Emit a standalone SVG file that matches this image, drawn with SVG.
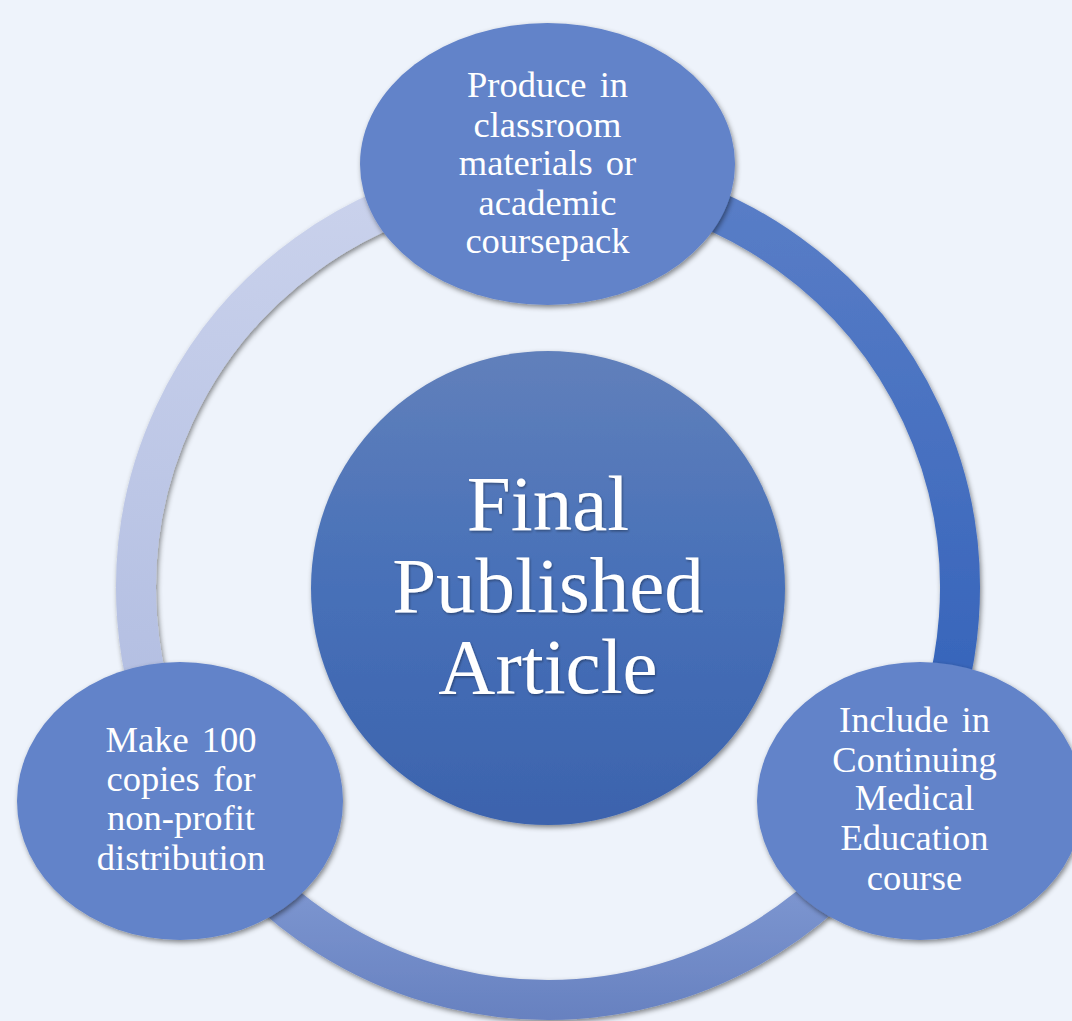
<svg xmlns="http://www.w3.org/2000/svg" width="1072" height="1021" viewBox="0 0 1072 1021">
  <defs>
    <filter id="shadow" x="-10%" y="-10%" width="120%" height="120%">
      <feDropShadow dx="1.5" dy="2.5" stdDeviation="2.5" flood-color="#000" flood-opacity="0.45"/>
    </filter>
    <filter id="tshadow" x="-10%" y="-10%" width="120%" height="120%">
      <feDropShadow dx="1" dy="1.5" stdDeviation="1.2" flood-color="#000" flood-opacity="0.35"/>
    </filter>
    <linearGradient id="gLeft" gradientUnits="userSpaceOnUse" x1="0" y1="180" x2="0" y2="795">
      <stop offset="0" stop-color="#cad2ec"/>
      <stop offset="1" stop-color="#afbbe0"/>
    </linearGradient>
    <linearGradient id="gRight" gradientUnits="userSpaceOnUse" x1="0" y1="180" x2="0" y2="795">
      <stop offset="0" stop-color="#5a7ec7"/>
      <stop offset="1" stop-color="#2f5fb8"/>
    </linearGradient>
    <linearGradient id="gBottom" gradientUnits="userSpaceOnUse" x1="0" y1="880" x2="0" y2="1020">
      <stop offset="0" stop-color="#7e97d1"/>
      <stop offset="1" stop-color="#6781c0"/>
    </linearGradient>
    <linearGradient id="gCenter" x1="0" y1="0" x2="0" y2="1">
      <stop offset="0" stop-color="#6180bb"/>
      <stop offset="0.5" stop-color="#4770b8"/>
      <stop offset="1" stop-color="#3c63ad"/>
    </linearGradient>
  </defs>
  <style>
    .arc { fill: none; stroke-width: 40; filter: url(#shadow); }
    .node { fill: #6283c9; filter: url(#shadow); }
    .lbl { font-family: "Liberation Serif", "Times New Roman", serif; font-size: 36.5px; fill: #ffffff; text-anchor: middle; }
    .ws { word-spacing: 4px; }
    .big { font-family: "Liberation Serif", "Times New Roman", serif; font-size: 79px; fill: #ffffff; text-anchor: middle; filter: url(#tshadow); }
  </style>
  <rect x="0" y="0" width="1072" height="1021" fill="#eef3fb"/>

  <g id="connectors">
    <path class="arc" stroke="url(#gRight)" d="M 619.5 182.3 A 412 412 0 0 1 904.8 794"/>
    <path class="arc" stroke="url(#gBottom)" d="M 904.8 794 A 412 412 0 0 1 191.2 794"/>
    <path class="arc" stroke="url(#gLeft)" d="M 191.2 794 A 412 412 0 0 1 476.5 182.3"/>
  </g>

  <g id="center">
    <circle cx="548" cy="588" r="237" fill="url(#gCenter)" filter="url(#shadow)"/>
    <text class="big" x="548" y="530">Final</text>
    <text class="big" x="548" y="612">Published</text>
    <text class="big" x="548" y="693">Article</text>
  </g>

  <g id="node-top">
    <ellipse class="node" cx="547.5" cy="164" rx="187.5" ry="141"/>
    <text class="lbl ws" x="547.5" y="97">Produce in</text>
    <text class="lbl" x="547.5" y="137">classroom</text>
    <text class="lbl ws" x="547.5" y="175">materials or</text>
    <text class="lbl" x="547.5" y="215">academic</text>
    <text class="lbl" x="547.5" y="253">coursepack</text>
  </g>

  <g id="node-left">
    <ellipse class="node" cx="180" cy="801" rx="163" ry="139"/>
    <text class="lbl ws" x="181" y="752">Make 100</text>
    <text class="lbl ws" x="181" y="791">copies for</text>
    <text class="lbl" x="181" y="830">non-profit</text>
    <text class="lbl" x="181" y="870">distribution</text>
  </g>

  <g id="node-right">
    <ellipse class="node" cx="920" cy="801" rx="163" ry="139"/>
    <text class="lbl ws" x="914.5" y="732">Include in</text>
    <text class="lbl" x="914.5" y="772">Continuing</text>
    <text class="lbl" x="914.5" y="810">Medical</text>
    <text class="lbl" x="914.5" y="850">Education</text>
    <text class="lbl" x="914.5" y="890">course</text>
  </g>
</svg>
